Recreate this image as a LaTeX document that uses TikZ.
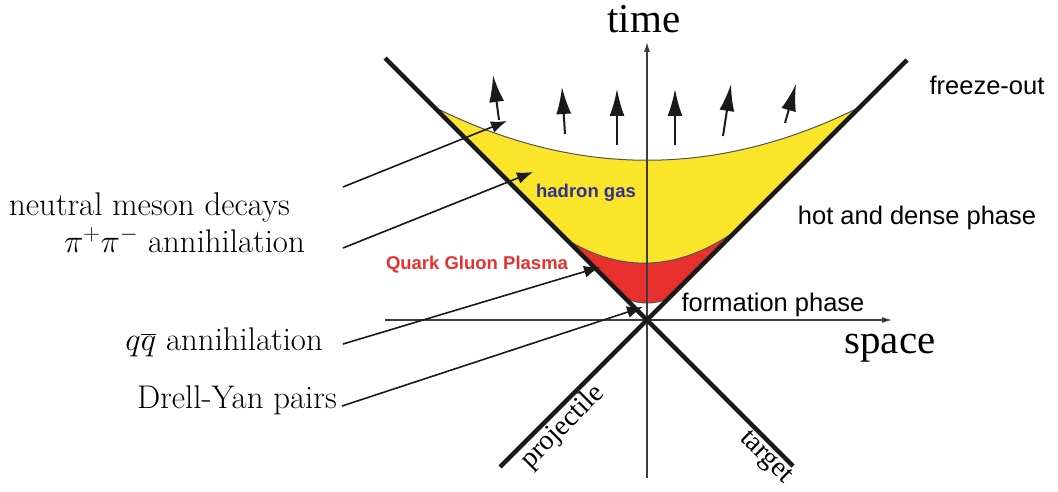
\RequirePackage{fix-cm}
\documentclass[tikz,border=0pt]{standalone}
\usepackage{fontspec}
\newfontfamily\sansf{Liberation Sans}
\newfontfamily\timesf{Liberation Serif}
\usetikzlibrary{arrows.meta}
\definecolor{yel}{HTML}{FBE52B}
\definecolor{qred}{HTML}{E8312F}
\definecolor{hblue}{HTML}{2E3192}
\definecolor{ink}{HTML}{1A1A1A}
\begin{document}
\begin{tikzpicture}[x=1pt,y=-1pt,
  cone/.style={line width=4.5pt, color=ink},
  axisline/.style={line width=1.2pt, color=ink!85, -{Latex[length=10pt,width=6pt]}},
  bound/.style={line width=1pt, color=ink!75},
  flow/.style={line width=2pt, color=ink, -{Latex[length=27pt,width=15pt]}},
  pointer/.style={line width=1.6pt, color=ink, -{Latex[length=16pt,width=12pt]}},
  lbl/.style={font=\fontsize{32.8}{38}\selectfont, inner sep=0pt, anchor=base east},
  sanslbl/.style={font=\sansf\fontsize{25.5}{30}\selectfont, inner sep=0pt},
  boldlbl/.style={font=\sansf\bfseries\fontsize{18.5}{22}\selectfont, inner sep=0pt},
  serif/.style={font=\timesf\fontsize{41}{48}\selectfont, inner sep=0pt, anchor=base},
  diag/.style={font=\timesf\fontsize{28}{32}\selectfont, inner sep=0pt}
]
\useasboundingbox (0,0) rectangle (1058,492);

% key points
\coordinate (O) at (647,320);
\coordinate (LT) at (385,58);
\coordinate (LB) at (793,466);
\coordinate (RT) at (907,60);
\coordinate (RB) at (500,467);

% regions
\fill[yel] (434,107) .. controls (576,178) and (718,178) .. (860,107)
  -- (737,230) .. controls (679,271) and (622,274) .. (566,239) -- cycle;
\fill[qred] (566,239) .. controls (622,274) and (679,271) .. (737,230)
  -- (670,297) .. controls (658,305) and (636,305) .. (624,297) -- cycle;
\draw[bound] (434,107) .. controls (576,178) and (718,178) .. (860,107);
\draw[bound] (566,239) .. controls (622,274) and (679,271) .. (737,230);
\draw[bound] (670,297) .. controls (658,305) and (636,305) .. (624,297);

% axes
\coordinate (tbot) at (647,478);
\coordinate (ttop) at (647,42);
\coordinate (xl) at (385,320);
\coordinate (xr) at (892,320);
\draw[axisline] (tbot) -- (ttop);
\draw[axisline] (xl) -- (xr);

% light cone
\draw[cone] (LT) -- (LB);
\draw[cone] (RT) -- (RB);

% freeze-out arrows
\coordinate (a1s) at (499,120); \coordinate (a1e) at (493,75);
\coordinate (a2s) at (565,134); \coordinate (a2e) at (562,87);
\coordinate (a3s) at (617,145); \coordinate (a3e) at (617,89);
\coordinate (a4s) at (675,145); \coordinate (a4e) at (675,89);
\coordinate (a5s) at (723,136); \coordinate (a5e) at (731,84);
\coordinate (a6s) at (785,123); \coordinate (a6e) at (796,84);
\foreach \i in {1,...,6} { \draw[flow] (a\i s) -- (a\i e); }

% left labels
\node[lbl] (nmd) at (290,215) {neutral meson decays};
\node[lbl] (pipi) at (305,252) {$\pi^+\pi^-$ annihilation};
\node[lbl] (qq) at (323,350) {$q\overline{q}$ annihilation};
\node[lbl] (dy) at (337,408) {Drell-Yan pairs};

% pointers
\coordinate (s1) at (343,187); \coordinate (t1) at (507,121);
\coordinate (s2) at (343,248); \coordinate (t2) at (533,172);
\coordinate (s3) at (343,344); \coordinate (t3) at (600,267);
\coordinate (s4) at (342,406); \coordinate (t4) at (643,307);
\draw[pointer] (s1) -- (t1);
\draw[pointer] (s2) -- (t2);
\draw[pointer] (s3) -- (t3);
\draw[pointer] (s4) -- (t4);

% axis labels
\node[serif] (time) at (644,33) {time};
\node[serif] (space) at (890,353) {space};
\node[diag, rotate=45] (proj) at (563,427) {projectile};
\node[diag, rotate=-45] (targ) at (765,458) {target};

% phase labels
\node[sanslbl] (fo) at (987,85) {freeze-out};
\node[sanslbl] (hd) at (917,218) {hot and dense phase};
\node[sanslbl] (fp) at (773,305) {formation phase};
\node[boldlbl, text=hblue] (hg) at (586,193) {hadron gas};
\node[boldlbl, text=qred] (qgp) at (477,265) {Quark Gluon Plasma};
\end{tikzpicture}
\end{document}
